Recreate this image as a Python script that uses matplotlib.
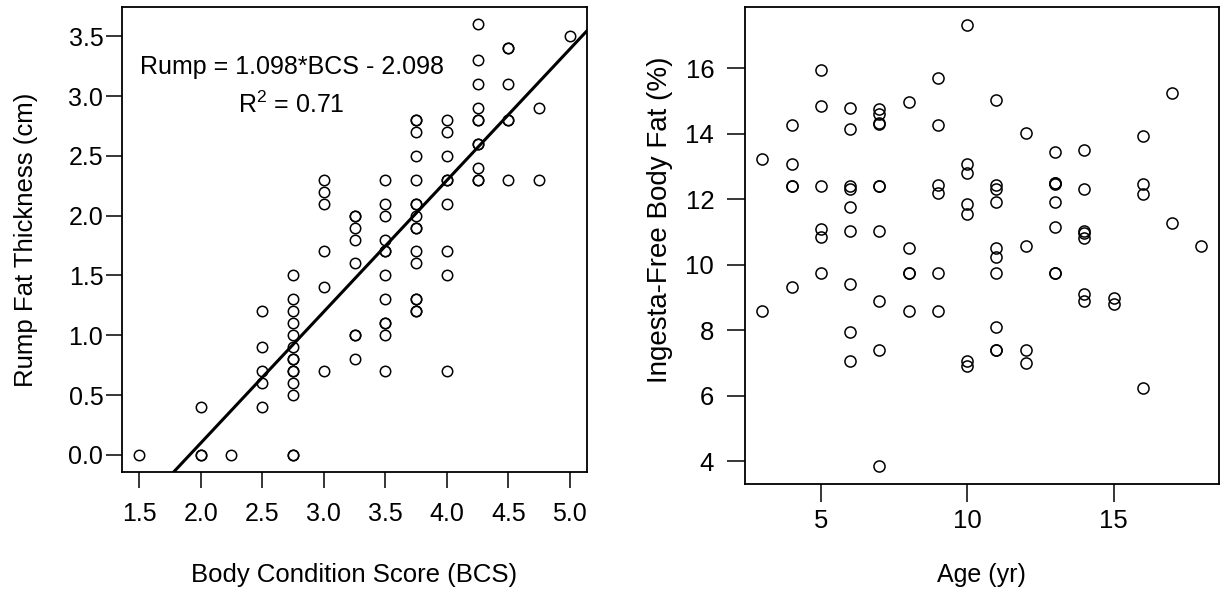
import numpy as np
import matplotlib
matplotlib.use('Agg')
import matplotlib.pyplot as plt

plt.rcParams['font.family'] = ['Liberation Sans', 'DejaVu Sans']
plt.rcParams['mathtext.fontset'] = 'custom'
plt.rcParams['mathtext.rm'] = 'Liberation Sans'
plt.rcParams['mathtext.it'] = 'Liberation Sans'

# left panel: body condition score vs rump fat
bcs = [1.5,
       2.0, 2.0, 2.0,
       2.25,
       2.5, 2.5, 2.5, 2.5, 2.5,
       2.75, 2.75, 2.75, 2.75, 2.75, 2.75, 2.75, 2.75, 2.75, 2.75, 2.75, 2.75, 2.75, 2.75,
       3.0, 3.0, 3.0, 3.0, 3.0, 3.0,
       3.25, 3.25, 3.25, 3.25, 3.25, 3.25, 3.25, 3.25,
       3.5, 3.5, 3.5, 3.5, 3.5, 3.5, 3.5, 3.5, 3.5, 3.5, 3.5, 3.5,
       3.75, 3.75, 3.75, 3.75, 3.75, 3.75, 3.75, 3.75, 3.75, 3.75, 3.75, 3.75, 3.75, 3.75, 3.75, 3.75,
       4.0, 4.0, 4.0, 4.0, 4.0, 4.0, 4.0, 4.0, 4.0,
       4.25, 4.25, 4.25, 4.25, 4.25, 4.25, 4.25, 4.25, 4.25, 4.25, 4.25,
       4.5, 4.5, 4.5, 4.5, 4.5, 4.5,
       4.75, 4.75,
       5.0]
rump = [0.0,
        0.0, 0.0, 0.4,
        0.0,
        1.2, 0.9, 0.7, 0.6, 0.4,
        1.5, 1.3, 1.2, 1.1, 1.0, 0.9, 0.8, 0.8, 0.7, 0.7, 0.6, 0.5, 0.0, 0.0,
        2.3, 2.2, 2.1, 1.7, 1.4, 0.7,
        2.0, 2.0, 1.9, 1.8, 1.6, 1.0, 1.0, 0.8,
        2.3, 2.1, 2.0, 1.8, 1.7, 1.7, 1.5, 1.3, 1.1, 1.1, 1.0, 0.7,
        2.8, 2.8, 2.7, 2.5, 2.3, 2.1, 2.1, 2.0, 1.9, 1.9, 1.7, 1.6, 1.3, 1.3, 1.2, 1.2,
        2.8, 2.7, 2.5, 2.3, 2.3, 2.1, 1.7, 1.5, 0.7,
        3.6, 3.3, 3.1, 2.9, 2.8, 2.8, 2.6, 2.6, 2.4, 2.3, 2.3,
        3.4, 3.4, 3.1, 2.8, 2.8, 2.3,
        2.9, 2.3,
        3.5]
slope, intercept = 1.098, -2.098
r2 = 0.71

# right panel: age vs ingesta-free body fat
age = [3, 3,
       4, 4, 4, 4, 4,
       5, 5, 5, 5, 5, 5,
       6, 6, 6, 6, 6, 6, 6, 6, 6,
       7, 7, 7, 7, 7, 7, 7, 7, 7, 7,
       8, 8, 8, 8, 8,
       9, 9, 9, 9, 9, 9,
       10, 10, 10, 10, 10, 10, 10,
       11, 11, 11, 11, 11, 11, 11, 11, 11, 11,
       12, 12, 12, 12,
       13, 13, 13, 13, 13, 13, 13, 13,
       14, 14, 14, 14, 14, 14, 14,
       15, 15,
       16, 16, 16, 16,
       17, 17,
       18]
fat = [13.22, 8.60,
       14.25, 13.06, 12.41, 12.41, 9.31,
       15.93, 14.83, 12.41, 11.08, 10.85, 9.76,
       14.78, 14.15, 12.40, 12.30, 11.77, 11.04, 9.41, 7.93, 7.07,
       14.74, 14.61, 14.31, 14.28, 12.41, 12.41, 11.04, 8.89, 7.40, 3.85,
       14.96, 10.52, 9.76, 9.76, 8.60,
       15.70, 14.25, 12.43, 12.19, 9.76, 8.60,
       17.32, 13.06, 12.81, 11.84, 11.54, 7.07, 6.92,
       15.02, 12.43, 12.30, 11.90, 10.52, 10.22, 9.76, 8.09, 7.40, 7.40,
       14.03, 10.57, 7.40, 7.00,
       13.44, 12.48, 12.48, 12.45, 11.90, 11.14, 9.76, 9.76,
       13.51, 12.30, 11.04, 10.96, 10.80, 9.10, 8.89,
       8.99, 8.80,
       13.92, 12.45, 12.17, 6.25,
       15.24, 11.28,
       10.57]


def r_lim(v):
    # base R default axis range: data range padded by 4%
    lo, hi = min(v), max(v)
    pad = 0.04 * (hi - lo)
    return lo - pad, hi + pad


fig = plt.figure(figsize=(12.25, 6.01), dpi=100)
ax1 = fig.add_axes([0.0996, 0.2146, 0.3796, 0.7737])
ax2 = fig.add_axes([0.608, 0.195, 0.387, 0.793])

# left
ax1.plot(bcs, rump, 'o', mfc='none', mec='black', ms=7.5, mew=1.1)
ax1.set_xlim(r_lim(bcs))
ax1.set_ylim(r_lim(rump))
xl = np.array(ax1.get_xlim())
ax1.plot(xl, slope * xl + intercept, color='black', lw=2.2)
ax1.set_xlim(r_lim(bcs))
ax1.set_xticks(np.arange(1.5, 5.01, 0.5))
ax1.set_xticklabels(['%.1f' % t for t in np.arange(1.5, 5.01, 0.5)])
ax1.set_yticks(np.arange(0, 3.51, 0.5))
ax1.set_yticklabels(['%.1f' % t for t in np.arange(0, 3.51, 0.5)])
ax1.tick_params(direction='out', length=11.5, width=1.1, labelsize=18)
ax1.tick_params(axis='x', pad=10)
ax1.tick_params(axis='y', pad=2)
ax1.set_xlabel('Body Condition Score (BCS)', fontsize=18.5, labelpad=27)
ax1.set_ylabel('Rump Fat Thickness (cm)', fontsize=18.5, labelpad=22)
ax1.text(2.74, 3.24, 'Rump = %.3f*BCS - %.3f' % (slope, -intercept),
         fontsize=18, ha='center', va='center')
ax1.text(2.74, 2.93, 'R$^2$ = %.2f' % r2, fontsize=18, ha='center', va='center')

# right
ax2.plot(age, fat, 'o', mfc='none', mec='black', ms=8, mew=1.1)
ax2.set_xlim(r_lim(age))
ax2.set_ylim(r_lim(fat))
ax2.set_xticks([5, 10, 15])
ax2.set_yticks(np.arange(4, 17, 2))
ax2.tick_params(direction='out', length=13, width=1.1, labelsize=18.5, pad=9)
ax2.tick_params(axis='x', pad=5)
ax2.set_xlabel('Age (yr)', fontsize=18, labelpad=22)
ax2.set_ylabel('Ingesta-Free Body Fat (%)', fontsize=20)
ax2.yaxis.set_label_coords(-0.152, 0.555)

for ax in (ax1, ax2):
    for s in ax.spines.values():
        s.set_linewidth(1.3)

fig.savefig('out.png', dpi=100)
